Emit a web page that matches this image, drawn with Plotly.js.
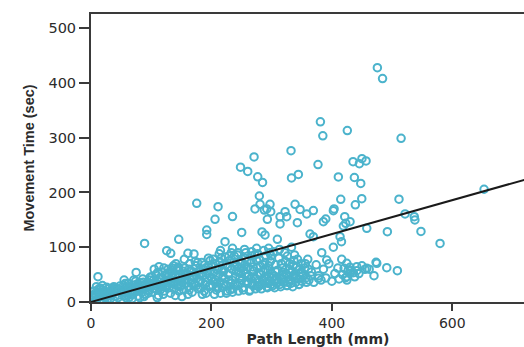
<!DOCTYPE html>
<html><head><meta charset="utf-8">
<script src="https://cdn.plot.ly/plotly-3.0.1.min.js"></script>
<style>html,body{margin:0;padding:0;overflow:hidden;background:#fff;width:524px;height:347px}#chart{width:546px;height:347px}</style>
</head><body><div id="chart"></div>
<script>
// Path length (mm) of each movement
const pathLength = [
  // sparse / upper points
  475.6,484.2,381,385,425.7,270.8,332.2,248.3,260.3,276.9,
  284.9,333,344.4,377,435.2,410.8,437.4,515,450,456.8,
  445.7,448,414.8,449.7,439,511.5,403.7,421.4,430.2,419.1,
  458,492.2,521.6,536.9,537.9,548,579.7,652.8,413.6,416,
  416.4,420.3,427.4,435.7,441.4,423,458,473.4,491.2,508.8,
  279.6,175.6,211,280.7,297.3,272.4,291.9,338.9,347.2,369.3,
  358.3,206,235,292.9,314,325,322.3,287.9,298.5,342.7,
  314,385.9,389.9,402.5,423,192.2,192.2,250.3,284,289,
  222.6,309.5,363.8,369.3,383.2,402.5,391.5,424.8,430.2,441.4,
  455,474.6,377.6,424.8,430.2,293.5,89,145.7,125.7,132.4,
  161,171,11.6,75,113,144.5,136,146,
  // 0-50
  2,4,6,8,10,12,14,16,18,20,22,24,26,28,30,32,34,36,38,40,42,44,46,48,50,5,15,25,35,45,3,9,19,29,39,
  // 50-100
  52,54,56,58,60,62,64,66,68,70,72,74,76,78,80,82,84,86,88,90,92,94,96,98,100,55,65,75,85,95,58,68,78,88,99,
  // 100-150
  102,104,106,108,110,112,114,116,118,120,122,124,126,128,130,132,134,136,138,140,142,144,146,148,150,105,115,125,135,145,110,120,130,140,149,103,127,137,113,143,
  // 150-200
  152,154,156,158,160,162,164,166,168,170,172,174,176,178,180,182,184,186,188,190,192,194,196,198,200,155,165,175,185,195,151,161,171,181,191,199,157,167,177,187,
  // 200-250
  202,204,206,208,210,212,214,216,218,220,222,224,226,228,230,232,234,236,238,240,242,244,246,248,250,205,215,225,235,245,203,213,223,233,243,207,217,227,237,247,211,221,231,241,249,
  // 250-300
  252,254,256,258,260,262,264,266,268,270,272,274,276,278,280,282,284,286,288,290,292,294,296,298,300,253,263,273,283,293,257,267,277,287,297,259,269,279,289,299,255,265,275,285,295,
  // 300-350
  302,304,306,308,310,312,314,316,318,320,322,324,326,328,330,332,334,336,338,340,342,344,346,348,350,305,315,325,335,345,303,313,323,333,343,309,319,329,339,349,
  // 350-470
  352,355,358,360,362,366,370,374,378,382,386,390,395,400,405,410,412,418,425,432,438,445,450,462,470,
  // extra dense 0-100
  7,13,21,27,33,41,47,53,57,63,67,71,77,83,87,93,97,61,81,91,
  // extra dense 100-200
  101,107,111,117,121,123,129,133,139,141,147,153,159,163,169,173,179,183,189,193,197,201,109,119,131,151,163,179,189,195,
  // extra dense 200-300
  204,209,214,219,224,229,234,239,244,248,251,256,261,266,271,276,281,286,291,296,209,219,229,239,249,259,269,279,289,299,215,235,255,275,295,
  // extra dense 300-365
  301,306,311,316,321,326,331,336,341,346,351,356,307,317,327,337,347,357,361,365
];
// Movement time (sec) of each movement
const movementTime = [
  428,408,329,303.6,313,265,276.4,246.3,238.4,228.7,
  218.3,226.5,233,251,256.3,228.4,227.4,299,261.8,257.6,
  252.6,216.5,187.6,188.7,177.4,187.8,169.9,155.8,146.7,138.8,
  134.6,128.4,160.8,155.8,149.8,128.8,106.9,205.9,119.3,110.2,
  78,61.6,58.5,53.5,57.2,44.4,61.6,72.5,62.7,57.2,
  193.6,180.3,174,178.5,178.5,170,170,178.5,169,167,
  160.8,151,156,151,155.8,155.8,165,168,165,144.9,
  142.5,146.7,151.6,166.8,143.8,131.5,123.3,127,128,122.4,
  110.2,114.5,124.2,119.3,90,100,76.7,70.7,63.4,64.5,
  59.7,70.7,43.3,46.2,52.4,34.2,107,114.5,93.7,89,
  89,87.7,46.2,54,64.5,61.5,61.5,58.5,
  // 0-50
  3,8,2,12,5,18,9,25,4,14,20,7,27,12,18,6,22,15,28,10,19,24,13,29,17,20,15,18,25,8,12,28,30,24,21,
  // 50-100
  22,30,12,26,18,34,9,28,22,15,31,38,20,11,26,35,18,42,24,14,30,36,21,45,28,40,18,26,30,16,8,6,34,10,34,
  // 100-150
  18,40,25,50,32,12,44,28,55,36,20,48,30,60,40,16,52,34,24,46,58,38,20,50,30,60,22,40,44,64,8,14,26,12,40,33,52,66,37,30,
  // 150-200
  45,22,62,35,50,28,70,40,18,55,32,66,44,24,58,38,72,48,20,62,36,52,28,76,44,78,56,30,14,64,10,14,46,26,16,58,52,34,72,60,
  // 200-250
  30,54,70,22,46,62,36,80,26,56,42,68,20,50,76,34,60,24,84,46,66,30,54,74,40,14,16,16,18,20,78,88,82,90,86,40,58,64,72,44,28,34,22,56,62,
  // 250-300
  26,58,80,38,64,48,22,72,34,56,86,42,62,28,78,50,32,68,44,84,28,58,38,74,52,22,20,24,24,26,90,92,88,94,90,46,30,52,60,32,68,42,76,40,66,
  // 300-350
  30,48,68,34,58,80,32,44,62,36,90,52,30,40,70,34,56,46,86,36,64,42,32,54,38,26,28,30,28,32,92,96,74,100,78,42,54,60,50,70,
  // 350-470
  48,62,36,78,40,55,36,68,48,40,60,44,70,38,52,62,42,50,40,58,46,52,66,60,48,
  // extra dense 0-100
  16,24,10,4,14,26,20,16,34,24,14,40,30,24,36,22,40,12,8,26,
  // extra dense 100-200
  46,36,54,42,62,28,46,58,38,70,28,56,42,60,48,74,36,52,68,44,30,64,22,30,34,36,22,50,32,80,
  // extra dense 200-300
  38,60,72,48,30,84,40,64,90,34,72,52,36,84,46,30,66,56,36,48,26,68,40,32,52,74,64,40,72,84,94,98,96,98,98,
  // extra dense 300-365
  44,56,36,70,46,84,54,66,44,60,52,70,40,50,36,76,46,44,60,48
];
// Fitted regression line
const fitSlope = 0.31;
const fitIntercept = 0;
const xTicks = [0, 200, 400, 600];
const yTicks = [0, 100, 200, 300, 400, 500];
const xMax = 754, yMax = 526;

const lineX = [0, xMax];
const lineY = lineX.map(x => fitIntercept + fitSlope * x);

const axisColor = '#3a3a3a';
const textColor = '#2b2b2b';

const traces = [
  {
    type: 'scatter', mode: 'markers', x: pathLength, y: movementTime,
    marker: {symbol: 'circle-open', size: 7.5, color: '#4bb3cc', line: {width: 2, color: '#4bb3cc'}},
    hoverinfo: 'x+y', showlegend: false
  },
  {
    type: 'scatter', mode: 'lines', x: lineX, y: lineY,
    line: {color: '#1a1a1a', width: 2}, showlegend: false
  }
];

const layout = {
  width: 546, height: 347,
  margin: {l: 91, r: 1, t: 14, b: 45},
  paper_bgcolor: '#ffffff', plot_bgcolor: '#ffffff',
  showlegend: false,
  xaxis: {
    range: [0, xMax], tickvals: xTicks, ticktext: xTicks.map(String),
    showline: true, mirror: true, linecolor: axisColor, linewidth: 2,
    ticks: 'outside', ticklen: 7, tickwidth: 2, tickcolor: axisColor,
    showgrid: false, zeroline: false,
    tickfont: {family: 'DejaVu Sans, sans-serif', size: 14, color: textColor},
    title: {text: 'Path Length (mm)', standoff: 5,
      font: {family: 'DejaVu Sans, sans-serif', size: 14, color: textColor, weight: 'bold'}}
  },
  yaxis: {
    range: [0, yMax], tickvals: yTicks, ticktext: yTicks.map(String),
    showline: true, mirror: true, linecolor: axisColor, linewidth: 2,
    ticks: 'outside', ticklen: 10, tickwidth: 2, tickcolor: axisColor,
    showgrid: false, zeroline: false,
    tickfont: {family: 'DejaVu Sans, sans-serif', size: 14.5, color: textColor},
    title: {text: 'Movement Time (sec)', standoff: 10,
      font: {family: 'Liberation Sans, Arial, sans-serif', size: 14.5, color: textColor, weight: 'bold'}}
  }
};

Plotly.newPlot('chart', traces, layout, {displayModeBar: false, staticPlot: true});
</script>
</body></html>
